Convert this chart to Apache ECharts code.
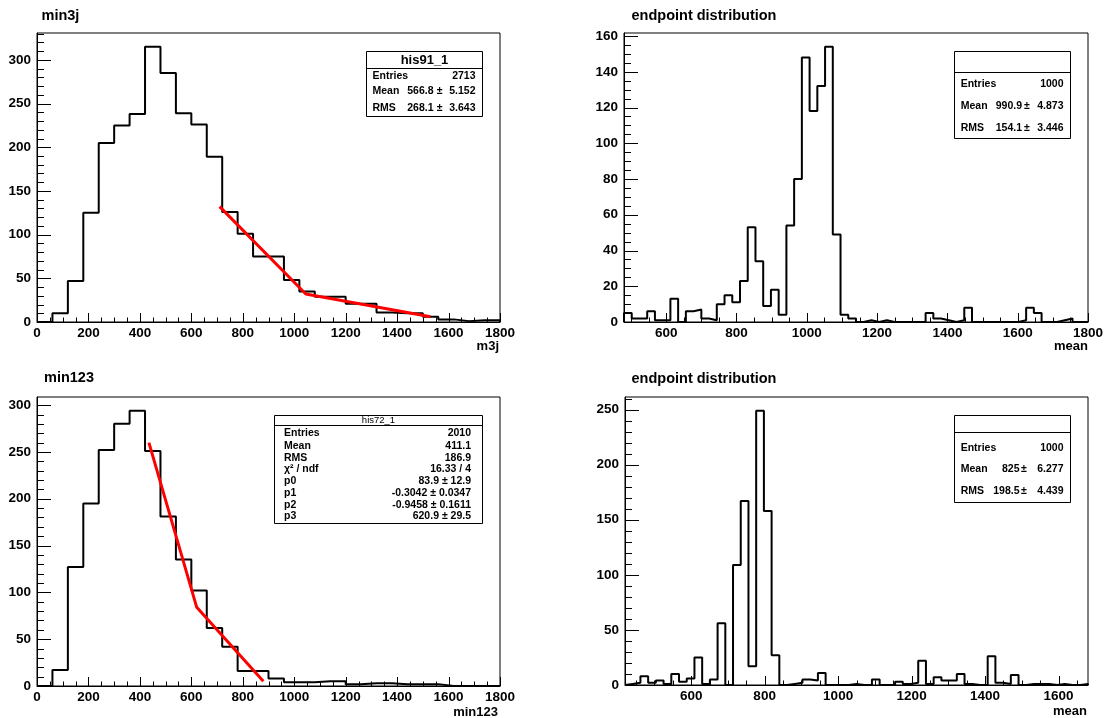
<!DOCTYPE html>
<html><head><meta charset="utf-8">
<script src="https://cdn.jsdelivr.net/npm/echarts@6/dist/echarts.min.js"></script>
<style>html,body{margin:0;padding:0;background:#fff}#c{width:1112px;height:718px}</style>
</head><body><div id="c"></div>
<script>
// ---------- DATA ----------
// Panel 1: min3j  (30 bins over [0,1800])
const min3jRange = [0, 1800];
const min3jCounts = [0,10,47,125,205,225,238,315,285,239,226,189,126,101,75,75,48,35,29,29,21,21,11,10,10,6,3,1,2,2];
const min3jFit = [[710,132],[1045,32],[1530,6]];
const min3jYMax = 330.75;

// Panel 2: endpoint distribution (60 bins over [480,1800])
const ep1Range = [480, 1800];
const ep1Counts = [5,2,2,6,1,1,13,0,6,7,2,1,10,15,11,23,53,34,9,18,4,54,80,148,118,132,154,49,4,2,
                   0,1,0,1,0,0,0,0,0,5,2,1,0,1,8,0,0,0,0,0,0,1,8,5,0,0,1,2,0,0];
const ep1YMax = 161.7;

// Panel 3: min123 (30 bins over [0,1800])
const min123Range = [0, 1800];
const min123Counts = [0,17,127,195,252,280,294,251,181,135,102,62,42,16,16,8,4,4,5,5,2,3,3,2,2,2,0,0,0,0];
const min123Fit = [[435,260],[621,84],[880,5]];
const min123YMax = 308.7;

// Panel 4: endpoint distribution (60 bins over [420,1680])
const ep2Range = [420, 1680];
const ep2Counts = [1,2,8,2,4,1,10,3,6,25,1,5,56,0,109,167,17,249,158,27,
                   0,1,2,5,4,11,0,0,0,1,0,0,5,0,0,3,1,2,22,1,
                   7,4,4,10,1,0,0,26,2,1,9,0,1,1,1,0,1,0,0,1];
const ep2YMax = 261.45;

// tick labels
const xTicksFull = [0,200,400,600,800,1000,1200,1400,1600,1800];
const xTicksEp1 = [600,800,1000,1200,1400,1600,1800];
const xTicksEp2 = [600,800,1000,1200,1400,1600];
const yTicks300 = [0,50,100,150,200,250,300];
const yTicks160 = [0,20,40,60,80,100,120,140,160];
const yTicks250 = [0,50,100,150,200,250];

// ---------- BUILD ----------
const FONT = "'Liberation Sans', Arial, Helvetica, sans-serif";
function steps(lo, hi, st){ const a=[]; for(let v=Math.ceil(lo/st)*st; v<=hi+1e-9; v+=st) a.push(v); return a; }
function histPoints(counts, range){
  const w = (range[1]-range[0])/counts.length;
  const pts = [[range[0],0]];
  counts.forEach((c,i)=>pts.push([range[0]+i*w, c]));
  pts.push([range[1], counts[counts.length-1]]);
  pts.push([range[1], 0]);
  return pts;
}
function tickSeries(xi, yi, vals, isX, len, base){
  return {type:'custom', xAxisIndex:xi, yAxisIndex:yi, silent:true, z:5, clip:false,
    data: vals.map(v => isX ? [v, base] : [base, v]),
    encode:{x:0, y:1},
    renderItem: function(params, api){
      const p = api.coord([api.value(0), api.value(1)]);
      if(isX){ const x = Math.round(p[0]) + 0.5; return {type:'line', shape:{x1:x, y1:p[1], x2:x, y2:p[1]-len}, style:{stroke:'#000', lineWidth:1}}; }
      const y = Math.round(p[1]) + 0.5; return {type:'line', shape:{x1:p[0], y1:y, x2:p[0]+len, y2:y}, style:{stroke:'#000', lineWidth:1}};
    }};
}

const panels = [
  {grid:{left:37, top:33, width:463, height:289}, range:min3jRange, ymax:min3jYMax, xMaj:xTicksFull, xMinStep:50, yMaj:yTicks300, yMinStep:10, counts:min3jCounts, fit:min3jFit},
  {grid:{left:624, top:33, width:464, height:289}, range:ep1Range, ymax:ep1YMax, xMaj:xTicksEp1, xMinStep:50, yMaj:yTicks160, yMinStep:5, counts:ep1Counts},
  {grid:{left:37, top:397, width:463, height:289}, range:min123Range, ymax:min123YMax, xMaj:xTicksFull, xMinStep:50, yMaj:yTicks300, yMinStep:10, counts:min123Counts, fit:min123Fit},
  {grid:{left:625, top:397, width:463, height:288}, range:ep2Range, ymax:ep2YMax, xMaj:xTicksEp2, xMinStep:50, yMaj:yTicks250, yMinStep:10, counts:ep2Counts}
];

const grids=[], xAxes=[], yAxes=[], series=[];
const labelStyle = {color:'#000', fontWeight:'bold', fontSize:13.5, fontFamily:FONT, formatter:function(v){ return String(v); }};
panels.forEach((p,i)=>{
  grids.push(Object.assign({show:true, borderColor:'#000', borderWidth:1, backgroundColor:'#fff'}, p.grid));
  xAxes.push({type:'value', gridIndex:i, position:'bottom', min:p.range[0], max:p.range[1],
    axisLine:{show:true, onZero:false, lineStyle:{color:'#000', width:1}},
    axisTick:{show:false},
    axisLabel:Object.assign({customValues:p.xMaj, margin:4}, labelStyle),
    splitLine:{show:false}});
  yAxes.push({type:'value', gridIndex:i, position:'left', min:0, max:p.ymax,
    axisLine:{show:true, onZero:false, lineStyle:{color:'#000', width:1}},
    axisTick:{show:false},
    axisLabel:Object.assign({customValues:p.yMaj, margin:6}, labelStyle),
    splitLine:{show:false}});
  series.push({type:'line', xAxisIndex:i, yAxisIndex:i, step:'end', symbol:'none', data:histPoints(p.counts,p.range),
    lineStyle:{color:'#000', width:2}, z:3, silent:true});
  if(p.fit){
    series.push({type:'line', xAxisIndex:i, yAxisIndex:i, symbol:'none', data:p.fit,
      lineStyle:{color:'#ff0000', width:3}, z:4, silent:true});
  }
  // axis ticks (inside, ROOT style)
  series.push(tickSeries(i, i, p.xMaj, true, 9, 0));
  series.push(tickSeries(i, i, steps(p.range[0], p.range[1], p.xMinStep), true, 4.5, 0));
  series.push(tickSeries(i, i, p.yMaj, false, 14, p.range[0]));
  series.push(tickSeries(i, i, steps(0, p.ymax, p.yMinStep), false, 7, p.range[0]));
});

// ---------- annotations ----------
const G = [];
function txt(x,y,s,font,align){ G.push({type:'text', x:x, y:y, silent:true, z:10,
  style:{text:s, font:font, fill:'#000', align:align||'left', verticalAlign:'middle', textAlign:align||'left', textVerticalAlign:'middle'}}); }
function rect(x,y,w,h){ G.push({type:'rect', silent:true, z:9, shape:{x:x,y:y,width:w,height:h}, style:{fill:'#fff', stroke:'#000', lineWidth:1}}); }
function hline(x1,x2,y){ G.push({type:'line', silent:true, z:10, shape:{x1:x1,y1:y,x2:x2,y2:y}, style:{stroke:'#000', lineWidth:1}}); }

const TITLE = "bold 14.5px " + FONT;
const AXT = "bold 13px " + FONT;
const ST = "bold 10.5px " + FONT;
txt(41.5, 16, 'min3j', TITLE);
txt(631.5, 16, 'endpoint distribution', TITLE);
txt(44, 378, 'min123', TITLE);
txt(631.5, 379, 'endpoint distribution', TITLE);
txt(499, 346, 'm3j', AXT, 'right');
txt(1088, 346, 'mean', AXT, 'right');
txt(498, 712, 'min123', AXT, 'right');
txt(1087, 711, 'mean', AXT, 'right');

// stat box texts
const stat1 = [['Entries','2713'],['Mean','566.8','5.152'],['RMS','268.1','3.643']];
const stat2 = [['Entries','1000'],['Mean','990.9','4.873'],['RMS','154.1','3.446']];
const stat4 = [['Entries','1000'],['Mean','825','6.277'],['RMS','198.5','4.439']];
const stat3 = [['Entries','2010'],['Mean','411.1'],['RMS','186.9'],['χ² / ndf','16.33 / 4'],['p0','83.9 ± 12.9'],['p1','-0.3042 ± 0.0347'],['p2','-0.9458 ± 0.1611'],['p3','620.9 ± 29.5']];

function statBox(b, rows){
  rect(b.x, b.y, b.w, b.h); hline(b.x, b.x+b.w, b.div);
  if(b.title) txt(b.x+b.w/2, b.ty, b.title, b.tfont, 'center');
  rows.forEach((r,i)=>{
    const y = b.rows[i];
    txt(b.lx, y, r[0], ST, 'left');
    if(r.length===2) txt(b.er, y, r[1], ST, 'right');
    else { txt(b.vr, y, r[1], ST, 'right'); txt(b.pm, y, '±', ST, 'center'); txt(b.er, y, r[2], ST, 'right'); }
  });
}
statBox({x:366.5,y:51.5,w:116,h:65,div:68.5,title:'his91_1',ty:60,tfont:"bold 13px "+FONT,rows:[76,91.5,108],lx:372.5,vr:433.5,pm:439.7,er:475.5}, stat1);
statBox({x:954.5,y:51.5,w:116,h:87,div:72.5,rows:[84,105.7,127.7],lx:960.7,vr:1022,pm:1027,er:1063.5}, stat2);
statBox({x:954.5,y:415.5,w:116,h:87,div:432.5,rows:[447.7,469,491],lx:960.7,vr:1019.5,pm:1024,er:1063.5}, stat4);
statBox({x:274.5,y:415.5,w:208,h:108,div:425.5,title:'his72_1',ty:420.5,tfont:"9.5px "+FONT,rows:[433,446,458,469.5,481,493,505,516.5],lx:284,er:471}, stat3);

const chart = echarts.init(document.getElementById('c'), null, {renderer:'canvas'});
chart.setOption({
  animation:false,
  backgroundColor:'#fff',
  grid:grids, xAxis:xAxes, yAxis:yAxes, series:series,
  graphic:{elements:G}
});
</script>
</body></html>
